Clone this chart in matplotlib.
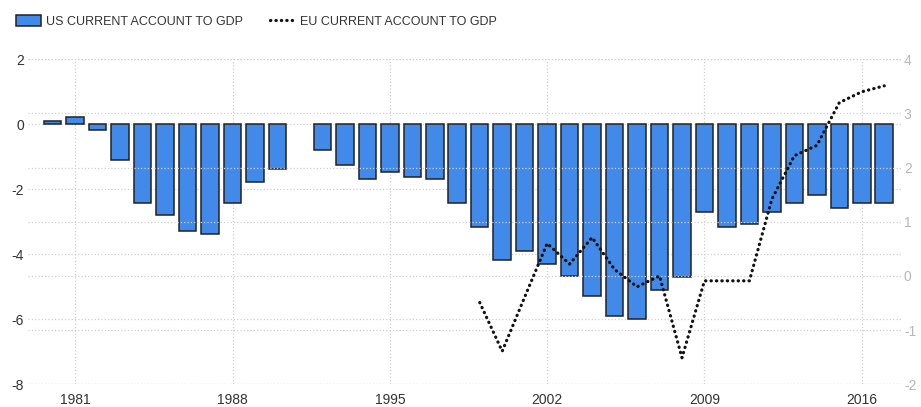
import numpy as np
import matplotlib.pyplot as plt
from matplotlib.patches import Patch
from matplotlib.lines import Line2D

plt.rcParams['font.family'] = ['Liberation Sans', 'DejaVu Sans']
plt.rcParams['axes.unicode_minus'] = False

# US current account to GDP (%), 1980-2017
us_years = list(range(1980, 2018))
us_values = [0.1, 0.22, -0.17, -1.11, -2.41, -2.79, -3.29, -3.38, -2.41, -1.77,
             -1.39, np.nan, -0.8, -1.26, -1.69, -1.47, -1.61, -1.69, -2.41, -3.16,
             -4.18, -3.89, -4.3, -4.68, -5.28, -5.9, -5.98, -5.1, -4.69, -2.7,
             -3.17, -3.08, -2.7, -2.41, -2.18, -2.57, -2.41, -2.41]

# EU current account to GDP (%), 1999-2017
eu_years = list(range(1999, 2018))
eu_values = [-0.49, -1.39, -0.39, 0.6, 0.22, 0.71, 0.12, -0.2, 0.0, -1.51,
             -0.09, -0.09, -0.09, 1.42, 2.22, 2.41, 3.2, 3.4, 3.51]

year_ticks = [1981, 1988, 1995, 2002, 2009, 2016]

bar_color = '#418ae9'
grid_color = '#d0d0d0'

fig = plt.figure(figsize=(9.21, 4.07), dpi=100)
ax = fig.add_axes([0.0304, 0.0558, 0.948, 0.7985])

ax.bar(us_years, us_values, width=0.78, color=bar_color, edgecolor='#222222',
       linewidth=1.1, zorder=3)

ax.set_xlim(1978.9, 2017.75)
ax.set_ylim(-8, 2)
ax.set_yticks([-8, -6, -4, -2, 0, 2])
ax.set_xticks(year_ticks)
ax.grid(True, color=grid_color, linestyle=':', linewidth=0.9, zorder=0)
ax.tick_params(axis='both', length=0, labelsize=10, colors='#333333')
ax.tick_params(axis='x', pad=6)
ax.tick_params(axis='y', pad=3)
for s in ax.spines.values():
    s.set_visible(False)

ax2 = ax.twinx()
ax2.plot(eu_years, eu_values, color='#111111', linewidth=2.3,
         linestyle=(0, (0.1, 1.6)), dash_capstyle='round', zorder=4)
ax2.set_ylim(-2, 4)
ax2.set_yticks([-2, -1, 0, 1, 2, 3, 4])
ax2.grid(True, axis='y', color=grid_color, linestyle=':', linewidth=0.9)
ax2.tick_params(axis='y', length=0, labelsize=10, colors='#b8b8b8', pad=2)
for s in ax2.spines.values():
    s.set_visible(False)

handles = [
    Patch(facecolor=bar_color, edgecolor='#222222', linewidth=1.1),
    Line2D([0], [0], color='#111111', linewidth=2.3, linestyle=(0, (0.1, 1.6)),
           dash_capstyle='round'),
]
labels = ['US CURRENT ACCOUNT TO GDP', 'EU CURRENT ACCOUNT TO GDP']
fig.legend(handles, labels, loc='upper left', bbox_to_anchor=(0.005, 0.99),
           ncol=2, frameon=False, fontsize=9, handlelength=2.0, handleheight=0.9,
           handletextpad=0.4, columnspacing=2.2, labelcolor='#333333')

fig.savefig('out.png', dpi=100)
